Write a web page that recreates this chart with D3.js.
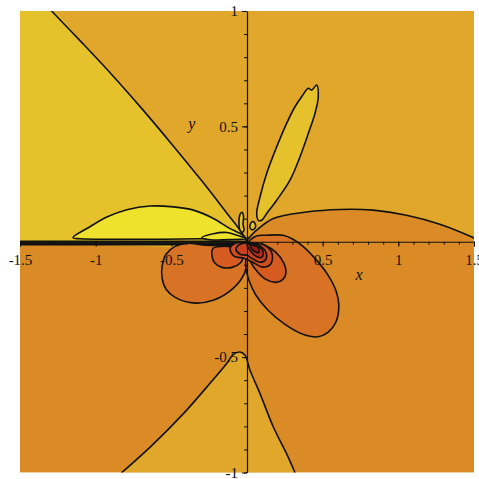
<!DOCTYPE html>
<html>
<head>
<meta charset="utf-8">
<script src="https://cdn.jsdelivr.net/npm/d3@7"></script>
<style>
  html, body { margin: 0; padding: 0; background: #fff; }
  svg { display: block; }
  .tick text { font-family: "Liberation Serif", "Times New Roman", serif; font-size: 15px; fill: #111; }
</style>
</head>
<body>
<svg id="chart" width="479" height="479"></svg>
<script>
// Filled contour levels, from highest to lowest value
const levelColors = {
  bright: "#EEE22C",
  yellow: "#E5C12B",
  gold:   "#E0A72A",
  orange: "#DA8B26",
  lobe:   "#D87224",
  inner:  "#D55B21",
  halo:   "#CF4D20",
  red1:   "#C9421F",
  red2:   "#B52A18",
  red3:   "#9C1A10"
};

// Contour curves, in (x, y) plot coordinates
const diagonalLine = [[-1.291, 1.0], [-1.091, 0.863], [-0.893, 0.724], [-0.695, 0.577],
  [-0.497, 0.423], [-0.299, 0.264], [-0.134, 0.125], [-0.046, 0.050], [0, 0.002]];

const archCurve = [[0, 0.007], [0.064, 0.050], [0.174, 0.101], [0.394, 0.129], [0.614, 0.140],
  [0.834, 0.137], [1.054, 0.115], [1.274, 0.076], [1.494, 0.018], [1.5, 0.016]];

const lowerWedge = [[-0.827, -1.0], [-0.640, -0.890], [-0.420, -0.745], [-0.266, -0.630],
  [-0.134, -0.528], [-0.090, -0.488], [-0.046, -0.478], [-0.013, -0.492], [0.020, -0.557],
  [0.086, -0.658], [0.174, -0.803], [0.262, -0.919], [0.317, -1.0]];

const brightLeaf = [[-1.150, 0.018], [-1.040, 0.064], [-0.926, 0.107], [-0.794, 0.139],
  [-0.640, 0.155], [-0.486, 0.151], [-0.354, 0.137], [-0.222, 0.101], [-0.112, 0.057],
  [-0.046, 0.036], [-0.007, 0.015], [-0.112, 0.013], [-0.310, 0.013], [-0.554, 0.011],
  [-0.838, 0.011], [-1.102, 0.013]];

const smallLeaf = [[-0.299, 0.018], [-0.222, 0.035], [-0.134, 0.040], [-0.068, 0.028],
  [-0.007, 0.015], [-0.112, 0.009], [-0.244, 0.009]];

const tallLeaf = [[0.075, 0.093], [0.064, 0.122], [0.086, 0.194], [0.130, 0.296], [0.196, 0.411],
  [0.262, 0.513], [0.317, 0.585], [0.361, 0.628], [0.405, 0.665], [0.427, 0.657], [0.460, 0.679],
  [0.471, 0.628], [0.449, 0.556], [0.405, 0.469], [0.350, 0.368], [0.284, 0.267], [0.196, 0.180],
  [0.130, 0.122], [0.097, 0.093]];

const thinLoop = [[-0.046, 0.050], [-0.053, 0.085], [-0.046, 0.119], [-0.033, 0.128],
  [-0.023, 0.111], [-0.026, 0.076], [-0.020, 0.050], [-0.033, 0.041]];

const tinyLoop = [[0.020, 0.072], [0.033, 0.087], [0.053, 0.080], [0.053, 0.059],
  [0.033, 0.052], [0.020, 0.061]];

const leftLobe = [[-0.013, -0.011], [-0.112, -0.015], [-0.271, -0.015], [-0.396, -0.007],
  [-0.475, -0.020], [-0.535, -0.054], [-0.561, -0.106], [-0.561, -0.158], [-0.535, -0.206],
  [-0.475, -0.241], [-0.356, -0.265], [-0.224, -0.254], [-0.092, -0.202], [-0.020, -0.141],
  [0, -0.089], [0, -0.037]];

const rightLobe = [[0, -0.011], [0.059, 0.024], [0.125, 0.028], [0.238, 0.028], [0.304, 0.011],
  [0.370, -0.020], [0.449, -0.072], [0.528, -0.137], [0.587, -0.210], [0.607, -0.275],
  [0.587, -0.349], [0.535, -0.393], [0.469, -0.412], [0.370, -0.401], [0.251, -0.358],
  [0.139, -0.297], [0.059, -0.232], [0.013, -0.167], [-0.007, -0.115], [-0.007, -0.059]];

const leftInner = [[-0.224, -0.028], [-0.231, -0.063], [-0.211, -0.093], [-0.165, -0.111],
  [-0.099, -0.111], [-0.046, -0.093], [-0.026, -0.067], [-0.046, -0.037], [-0.099, -0.024],
  [-0.165, -0.020]];

const rightInner = [[0.007, -0.011], [0.059, -0.007], [0.119, -0.015], [0.191, -0.046],
  [0.244, -0.093], [0.257, -0.137], [0.238, -0.163], [0.191, -0.176], [0.125, -0.163],
  [0.066, -0.128], [0.026, -0.089], [0.007, -0.046]];

const coreHalo = [[-0.080, -0.008], [-0.112, -0.030], [-0.086, -0.062], [-0.020, -0.072],
  [0.040, -0.090], [0.106, -0.110], [0.158, -0.095], [0.165, -0.050], [0.120, -0.016],
  [0.040, -0.004]];

const coreOuter = [[-0.046, -0.011], [-0.073, -0.033], [-0.046, -0.054], [0, -0.059],
  [0.033, -0.072], [0.086, -0.089], [0.125, -0.076], [0.125, -0.046], [0.092, -0.020],
  [0.040, -0.007]];

const coreMiddle = [[0, -0.011], [0.020, -0.037], [0.059, -0.063], [0.099, -0.067],
  [0.106, -0.041], [0.073, -0.020]];

const coreInner = [[0.020, -0.015], [0.046, -0.041], [0.079, -0.046], [0.073, -0.024]];

// Level lines hugging the negative x axis
const axisBandLevels = [0.002, -0.006, -0.013];

// Axis ticks
const xTicks = [-1.5, -1, -0.5, 0.5, 1, 1.5];
const yTicks = [-1, -0.5, 0.5, 1];
const xMinor = d3.range(-15, 16).map(i => i / 10);
const yMinor = d3.range(-10, 11).map(i => i / 10);

const svg = d3.select("#chart");
const X = d3.scaleLinear().domain([-1.5, 1.5]).range([20, 474]);
const Y = d3.scaleLinear().domain([-1, 1]).range([472.5, 11]);

const [x0, x1] = X.domain();
const [y0, y1] = Y.domain();

svg.append("clipPath").attr("id", "plot-clip")
  .append("rect")
  .attr("x", X(x0)).attr("y", Y(y1))
  .attr("width", X(x1) - X(x0)).attr("height", Y(y0) - Y(y1));

const plot = svg.append("g").attr("clip-path", "url(#plot-clip)");

const linear = d3.line().x(d => X(d[0])).y(d => Y(d[1]));
const smoothOpen = d3.line().x(d => X(d[0])).y(d => Y(d[1])).curve(d3.curveCatmullRom.alpha(0.5));
const smoothClosed = d3.line().x(d => X(d[0])).y(d => Y(d[1])).curve(d3.curveCatmullRomClosed.alpha(0.5));

function fillPath(points, color, gen) {
  plot.append("path").attr("d", (gen || linear)(points) + "Z").attr("fill", color).attr("stroke", "none");
}
function strokePath(points, gen) {
  plot.append("path").attr("d", (gen || smoothOpen)(points))
    .attr("fill", "none").attr("stroke", "#111").attr("stroke-width", 1.6)
    .attr("stroke-linejoin", "round").attr("stroke-linecap", "round");
}
function closedRegion(points, color) {
  plot.append("path").attr("d", smoothClosed(points))
    .attr("fill", color).attr("stroke", "#111").attr("stroke-width", 1.6)
    .attr("stroke-linejoin", "round");
}

// Base level over the whole window
fillPath([[x0, y0], [x1, y0], [x1, y1], [x0, y1]], levelColors.gold);

// Lower level: under the arch on the right and below the axis band on the left
fillPath(archCurve.concat([[x1, y0], [x0, y0], [x0, axisBandLevels[2]], [0, axisBandLevels[2]]]),
  levelColors.orange);

// Upper-left level bounded by the diagonal
fillPath([[x0, y1]].concat(diagonalLine, [[x0, axisBandLevels[0]]]), levelColors.yellow, smoothOpen);

// Wedge rising from the bottom edge
fillPath(lowerWedge, levelColors.gold);

strokePath(diagonalLine);
strokePath(archCurve);
strokePath(lowerWedge);
axisBandLevels.forEach(v => strokePath([[x0, v], [0, v]], linear));

// Closed contour islands
closedRegion(brightLeaf, levelColors.bright);
closedRegion(smallLeaf, levelColors.bright);
closedRegion(tallLeaf, levelColors.yellow);
closedRegion(thinLoop, levelColors.yellow);
closedRegion(tinyLoop, levelColors.yellow);
closedRegion(leftLobe, levelColors.lobe);
closedRegion(rightLobe, levelColors.lobe);
closedRegion(leftInner, levelColors.inner);
closedRegion(rightInner, levelColors.inner);
closedRegion(coreHalo, levelColors.halo);
closedRegion(coreOuter, levelColors.red1);
closedRegion(coreMiddle, levelColors.red2);
closedRegion(coreInner, levelColors.red3);

// Axes through the origin
const fmt = d => String(d);

const xAxisG = svg.append("g").attr("transform", `translate(0,${Y(0)})`);
xAxisG.call(d3.axisBottom(X).tickValues(xMinor).tickSize(3).tickFormat(""));
xAxisG.call(g => g.select(".domain").remove());
svg.append("g").attr("transform", `translate(0,${Y(0)})`)
  .call(d3.axisBottom(X).tickValues(xTicks).tickSize(5).tickPadding(8).tickSizeOuter(0).tickFormat(fmt));

const yAxisG = svg.append("g").attr("transform", `translate(${X(0)},0)`);
yAxisG.call(d3.axisLeft(Y).tickValues(yMinor).tickSize(3).tickFormat(""));
yAxisG.call(g => g.select(".domain").remove());
svg.append("g").attr("transform", `translate(${X(0)},0)`)
  .call(d3.axisLeft(Y).tickValues(yTicks).tickSize(5).tickPadding(4).tickSizeOuter(0).tickFormat(fmt));

svg.selectAll(".tick line").attr("stroke", "#111").attr("stroke-width", 1);
svg.selectAll(".domain").attr("stroke", "#111").attr("stroke-width", 1.2);

// Axis titles
svg.append("text").attr("x", X(0.74)).attr("y", Y(-0.165))
  .attr("font-family", "Liberation Serif, serif").attr("font-style", "italic")
  .attr("font-size", 16).attr("fill", "#111").attr("text-anchor", "middle").text("x");
svg.append("text").attr("x", X(-0.365)).attr("y", Y(0.49))
  .attr("font-family", "Liberation Serif, serif").attr("font-style", "italic")
  .attr("font-size", 16).attr("fill", "#111").attr("text-anchor", "middle").text("y");
</script>
</body>
</html>
